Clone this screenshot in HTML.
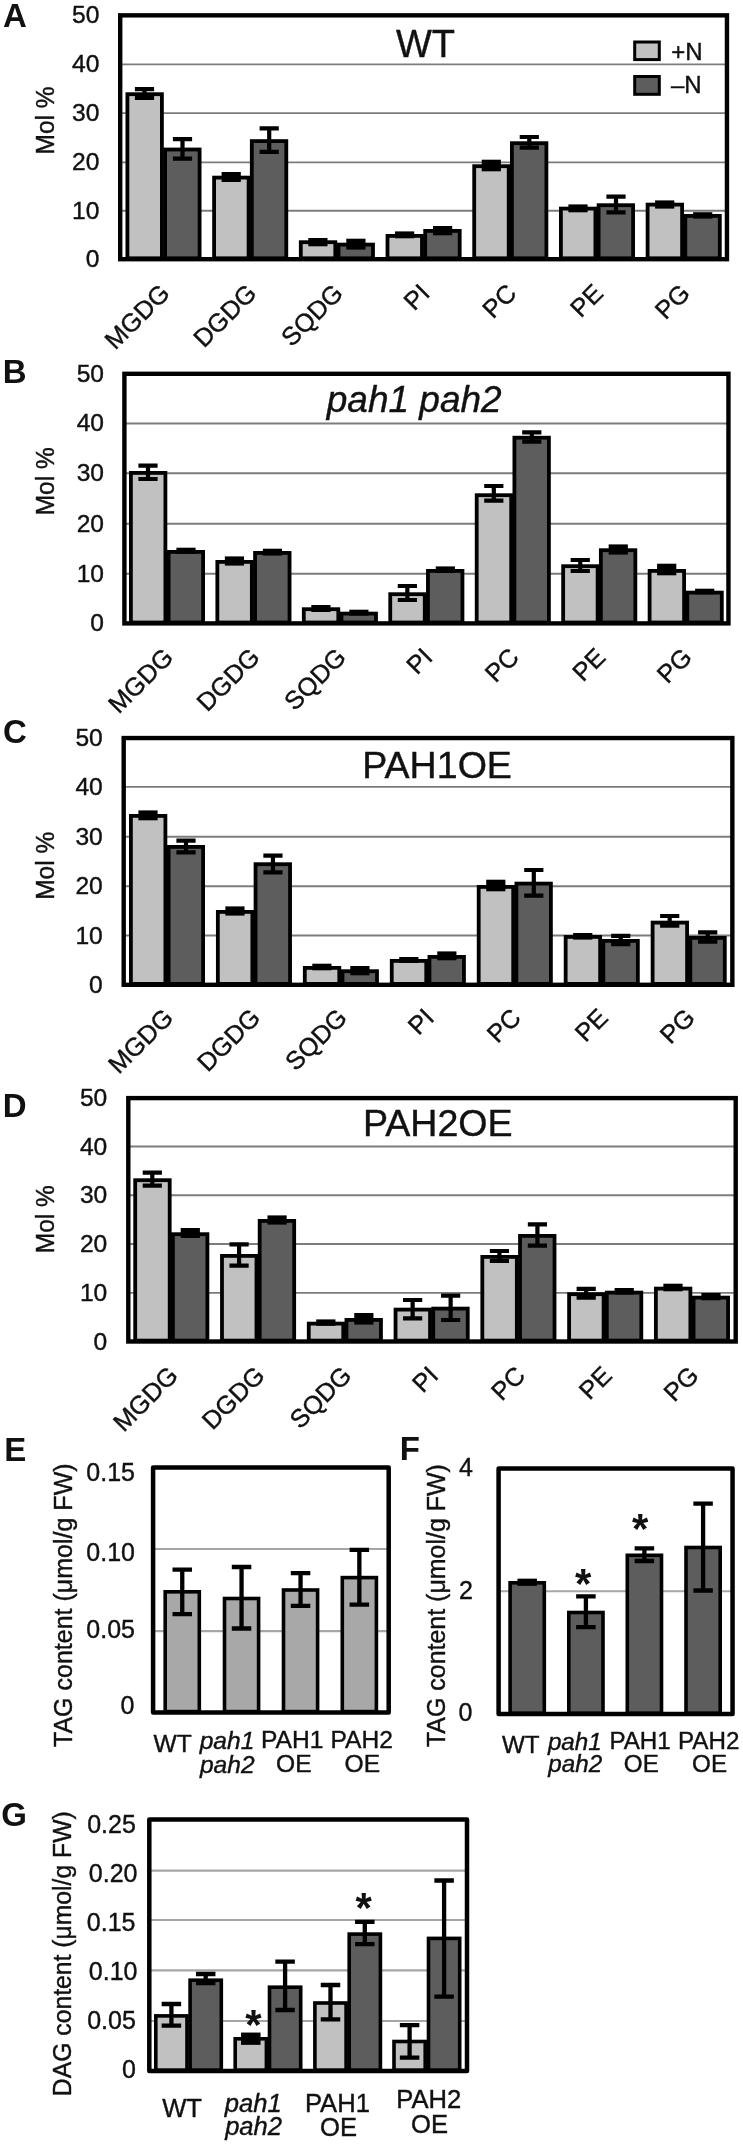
<!DOCTYPE html>
<html lang="en"><head><meta charset="utf-8"><title>Figure</title>
<style>
html,body{margin:0;padding:0;background:#fff;}
svg{display:block;filter:grayscale(1);}
text{font-family:"Liberation Sans", sans-serif;fill:#111;stroke:#111;stroke-width:0.4px;}
</style></head><body>
<svg width="743" height="2144" viewBox="0 0 743 2144">
<rect width="743" height="2144" fill="#fff"/>
<g id="panelA">
<line x1="120.2" x2="726.95" y1="64.4" y2="64.4" stroke="#7c7c7c" stroke-width="1.9"/>
<line x1="120.2" x2="726.95" y1="113.1" y2="113.1" stroke="#7c7c7c" stroke-width="1.9"/>
<line x1="120.2" x2="726.95" y1="162.4" y2="162.4" stroke="#7c7c7c" stroke-width="1.9"/>
<line x1="120.2" x2="726.95" y1="210.8" y2="210.8" stroke="#7c7c7c" stroke-width="1.9"/>
<rect x="127.40" y="94.20" width="34.50" height="164.10" fill="#c1c1c1" stroke="#000" stroke-width="3.8"/>
<rect x="165.10" y="149.50" width="34.50" height="108.80" fill="#5b5d5c" stroke="#000" stroke-width="3.8"/>
<rect x="214.10" y="177.60" width="34.50" height="80.70" fill="#c1c1c1" stroke="#000" stroke-width="3.8"/>
<rect x="251.80" y="141.10" width="34.50" height="117.20" fill="#5b5d5c" stroke="#000" stroke-width="3.8"/>
<rect x="300.80" y="242.20" width="34.50" height="16.10" fill="#c1c1c1" stroke="#000" stroke-width="3.8"/>
<rect x="338.50" y="244.60" width="34.50" height="13.70" fill="#5b5d5c" stroke="#000" stroke-width="3.8"/>
<rect x="387.50" y="235.90" width="34.50" height="22.40" fill="#c1c1c1" stroke="#000" stroke-width="3.8"/>
<rect x="425.20" y="230.90" width="34.50" height="27.40" fill="#5b5d5c" stroke="#000" stroke-width="3.8"/>
<rect x="474.20" y="166.20" width="34.50" height="92.10" fill="#c1c1c1" stroke="#000" stroke-width="3.8"/>
<rect x="511.90" y="143.20" width="34.50" height="115.10" fill="#5b5d5c" stroke="#000" stroke-width="3.8"/>
<rect x="560.90" y="208.60" width="34.50" height="49.70" fill="#c1c1c1" stroke="#000" stroke-width="3.8"/>
<rect x="598.60" y="205.20" width="34.50" height="53.10" fill="#5b5d5c" stroke="#000" stroke-width="3.8"/>
<rect x="647.60" y="204.60" width="34.50" height="53.70" fill="#c1c1c1" stroke="#000" stroke-width="3.8"/>
<rect x="685.30" y="215.90" width="34.50" height="42.40" fill="#5b5d5c" stroke="#000" stroke-width="3.8"/>
<path d="M134.90 89.20H154.10M134.90 98.00H154.10M144.50 89.20V98.00" stroke="#000" stroke-width="4.2" fill="none"/>
<path d="M172.90 139.20H192.10M172.90 158.70H192.10M182.50 139.20V158.70" stroke="#000" stroke-width="4.2" fill="none"/>
<rect x="221.60" y="172.00" width="19.20" height="10.00" fill="#000"/>
<path d="M259.60 128.30H278.80M259.60 151.80H278.80M269.20 128.30V151.80" stroke="#000" stroke-width="4.2" fill="none"/>
<rect x="308.30" y="238.00" width="19.20" height="8.30" fill="#000"/>
<rect x="346.30" y="238.70" width="19.20" height="10.90" fill="#000"/>
<rect x="395.00" y="231.40" width="19.20" height="6.90" fill="#000"/>
<rect x="433.00" y="226.00" width="19.20" height="9.30" fill="#000"/>
<rect x="481.70" y="159.70" width="19.20" height="11.60" fill="#000"/>
<path d="M519.70 137.00H538.90M519.70 147.70H538.90M529.30 137.00V147.70" stroke="#000" stroke-width="4.2" fill="none"/>
<rect x="568.40" y="204.40" width="19.20" height="7.90" fill="#000"/>
<path d="M606.40 196.70H625.60M606.40 212.30H625.60M616.00 196.70V212.30" stroke="#000" stroke-width="4.2" fill="none"/>
<rect x="655.10" y="200.40" width="19.20" height="8.20" fill="#000"/>
<rect x="693.10" y="212.20" width="19.20" height="6.40" fill="#000"/>
<rect x="120.2" y="15.35" width="606.75" height="243.85" fill="none" stroke="#000" stroke-width="4.4"/>
<text x="3.10" y="27.30" font-size="33" text-anchor="start" font-weight="bold" font-style="normal" style="stroke-width:0">A</text>
<text x="99.40" y="23.05" font-size="24.6" text-anchor="end" font-weight="normal" font-style="normal">50</text>
<text x="99.40" y="72.10" font-size="24.6" text-anchor="end" font-weight="normal" font-style="normal">40</text>
<text x="99.40" y="120.80" font-size="24.6" text-anchor="end" font-weight="normal" font-style="normal">30</text>
<text x="99.40" y="170.10" font-size="24.6" text-anchor="end" font-weight="normal" font-style="normal">20</text>
<text x="99.40" y="218.50" font-size="24.6" text-anchor="end" font-weight="normal" font-style="normal">10</text>
<text x="99.40" y="266.90" font-size="24.6" text-anchor="end" font-weight="normal" font-style="normal">0</text>
<text x="54.50" y="120.40" font-size="25.5" text-anchor="middle" font-weight="normal" font-style="normal" transform="rotate(-90 54.50 120.40)" textLength="68" lengthAdjust="spacingAndGlyphs">Mol %</text>
<text x="425.50" y="57.00" font-size="38" text-anchor="middle" font-weight="normal" font-style="normal">WT</text>
<text x="171.20" y="294.80" font-size="25.4" text-anchor="end" font-weight="normal" font-style="normal" transform="rotate(-45 171.20 294.80)">MGDG</text>
<text x="257.90" y="294.80" font-size="25.4" text-anchor="end" font-weight="normal" font-style="normal" transform="rotate(-45 257.90 294.80)">DGDG</text>
<text x="344.60" y="294.80" font-size="25.4" text-anchor="end" font-weight="normal" font-style="normal" transform="rotate(-45 344.60 294.80)">SQDG</text>
<text x="431.30" y="294.80" font-size="25.4" text-anchor="end" font-weight="normal" font-style="normal" transform="rotate(-45 431.30 294.80)">PI</text>
<text x="518.00" y="294.80" font-size="25.4" text-anchor="end" font-weight="normal" font-style="normal" transform="rotate(-45 518.00 294.80)">PC</text>
<text x="604.70" y="294.80" font-size="25.4" text-anchor="end" font-weight="normal" font-style="normal" transform="rotate(-45 604.70 294.80)">PE</text>
<text x="691.40" y="294.80" font-size="25.4" text-anchor="end" font-weight="normal" font-style="normal" transform="rotate(-45 691.40 294.80)">PG</text>
</g>
<g id="panelB">
<line x1="124.4" x2="728.45" y1="423.5" y2="423.5" stroke="#7c7c7c" stroke-width="1.9"/>
<line x1="124.4" x2="728.45" y1="473.3" y2="473.3" stroke="#7c7c7c" stroke-width="1.9"/>
<line x1="124.4" x2="728.45" y1="523.7" y2="523.7" stroke="#7c7c7c" stroke-width="1.9"/>
<line x1="124.4" x2="728.45" y1="573.8" y2="573.8" stroke="#7c7c7c" stroke-width="1.9"/>
<rect x="130.90" y="472.90" width="34.50" height="149.60" fill="#c1c1c1" stroke="#000" stroke-width="3.8"/>
<rect x="168.60" y="551.90" width="34.50" height="70.60" fill="#5b5d5c" stroke="#000" stroke-width="3.8"/>
<rect x="217.35" y="561.90" width="34.50" height="60.60" fill="#c1c1c1" stroke="#000" stroke-width="3.8"/>
<rect x="255.05" y="552.90" width="34.50" height="69.60" fill="#5b5d5c" stroke="#000" stroke-width="3.8"/>
<rect x="303.80" y="609.20" width="34.50" height="13.30" fill="#c1c1c1" stroke="#000" stroke-width="3.8"/>
<rect x="341.50" y="613.60" width="34.50" height="8.90" fill="#5b5d5c" stroke="#000" stroke-width="3.8"/>
<rect x="390.25" y="594.20" width="34.50" height="28.30" fill="#c1c1c1" stroke="#000" stroke-width="3.8"/>
<rect x="427.95" y="570.90" width="34.50" height="51.60" fill="#5b5d5c" stroke="#000" stroke-width="3.8"/>
<rect x="476.70" y="495.20" width="34.50" height="127.30" fill="#c1c1c1" stroke="#000" stroke-width="3.8"/>
<rect x="514.40" y="437.70" width="34.50" height="184.80" fill="#5b5d5c" stroke="#000" stroke-width="3.8"/>
<rect x="563.15" y="566.20" width="34.50" height="56.30" fill="#c1c1c1" stroke="#000" stroke-width="3.8"/>
<rect x="600.85" y="550.20" width="34.50" height="72.30" fill="#5b5d5c" stroke="#000" stroke-width="3.8"/>
<rect x="649.60" y="570.90" width="34.50" height="51.60" fill="#c1c1c1" stroke="#000" stroke-width="3.8"/>
<rect x="687.30" y="592.60" width="34.50" height="29.90" fill="#5b5d5c" stroke="#000" stroke-width="3.8"/>
<path d="M138.40 465.70H157.60M138.40 479.00H157.60M148.00 465.70V479.00" stroke="#000" stroke-width="4.2" fill="none"/>
<rect x="176.40" y="547.70" width="19.20" height="6.10" fill="#000"/>
<rect x="224.85" y="556.40" width="19.20" height="9.20" fill="#000"/>
<rect x="262.85" y="548.70" width="19.20" height="6.90" fill="#000"/>
<rect x="311.30" y="605.00" width="19.20" height="7.00" fill="#000"/>
<rect x="349.30" y="609.70" width="19.20" height="5.90" fill="#000"/>
<path d="M397.75 586.00H416.95M397.75 600.00H416.95M407.35 586.00V600.00" stroke="#000" stroke-width="4.2" fill="none"/>
<rect x="435.75" y="566.40" width="19.20" height="6.60" fill="#000"/>
<path d="M484.20 486.00H503.40M484.20 500.70H503.40M493.80 486.00V500.70" stroke="#000" stroke-width="4.2" fill="none"/>
<path d="M522.20 432.30H541.40M522.20 441.70H541.40M531.80 432.30V441.70" stroke="#000" stroke-width="4.2" fill="none"/>
<path d="M570.65 560.00H589.85M570.65 571.00H589.85M580.25 560.00V571.00" stroke="#000" stroke-width="4.2" fill="none"/>
<rect x="608.65" y="544.40" width="19.20" height="10.20" fill="#000"/>
<rect x="657.10" y="563.70" width="19.20" height="11.60" fill="#000"/>
<rect x="695.10" y="588.70" width="19.20" height="5.60" fill="#000"/>
<rect x="124.4" y="373.8" width="604.05" height="249.60" fill="none" stroke="#000" stroke-width="4.4"/>
<text x="2.80" y="382.80" font-size="33" text-anchor="start" font-weight="bold" font-style="normal" style="stroke-width:0">B</text>
<text x="104.00" y="381.70" font-size="24.6" text-anchor="end" font-weight="normal" font-style="normal">50</text>
<text x="104.00" y="431.40" font-size="24.6" text-anchor="end" font-weight="normal" font-style="normal">40</text>
<text x="104.00" y="481.20" font-size="24.6" text-anchor="end" font-weight="normal" font-style="normal">30</text>
<text x="104.00" y="531.60" font-size="24.6" text-anchor="end" font-weight="normal" font-style="normal">20</text>
<text x="104.00" y="581.70" font-size="24.6" text-anchor="end" font-weight="normal" font-style="normal">10</text>
<text x="104.00" y="631.30" font-size="24.6" text-anchor="end" font-weight="normal" font-style="normal">0</text>
<text x="54.50" y="481.30" font-size="25.5" text-anchor="middle" font-weight="normal" font-style="normal" transform="rotate(-90 54.50 481.30)" textLength="68" lengthAdjust="spacingAndGlyphs">Mol %</text>
<text x="414.20" y="412.30" font-size="37" text-anchor="middle" font-weight="normal" font-style="italic">pah1 pah2</text>
<text x="174.70" y="658.80" font-size="25.4" text-anchor="end" font-weight="normal" font-style="normal" transform="rotate(-45 174.70 658.80)">MGDG</text>
<text x="261.15" y="658.80" font-size="25.4" text-anchor="end" font-weight="normal" font-style="normal" transform="rotate(-45 261.15 658.80)">DGDG</text>
<text x="347.60" y="658.80" font-size="25.4" text-anchor="end" font-weight="normal" font-style="normal" transform="rotate(-45 347.60 658.80)">SQDG</text>
<text x="434.05" y="658.80" font-size="25.4" text-anchor="end" font-weight="normal" font-style="normal" transform="rotate(-45 434.05 658.80)">PI</text>
<text x="520.50" y="658.80" font-size="25.4" text-anchor="end" font-weight="normal" font-style="normal" transform="rotate(-45 520.50 658.80)">PC</text>
<text x="606.95" y="658.80" font-size="25.4" text-anchor="end" font-weight="normal" font-style="normal" transform="rotate(-45 606.95 658.80)">PE</text>
<text x="693.40" y="658.80" font-size="25.4" text-anchor="end" font-weight="normal" font-style="normal" transform="rotate(-45 693.40 658.80)">PG</text>
</g>
<g id="panelC">
<line x1="123.7" x2="732.35" y1="786.9" y2="786.9" stroke="#7c7c7c" stroke-width="1.9"/>
<line x1="123.7" x2="732.35" y1="836.7" y2="836.7" stroke="#7c7c7c" stroke-width="1.9"/>
<line x1="123.7" x2="732.35" y1="886.3" y2="886.3" stroke="#7c7c7c" stroke-width="1.9"/>
<line x1="123.7" x2="732.35" y1="935.5" y2="935.5" stroke="#7c7c7c" stroke-width="1.9"/>
<rect x="130.90" y="815.90" width="34.50" height="168.00" fill="#c1c1c1" stroke="#000" stroke-width="3.8"/>
<rect x="168.60" y="846.90" width="34.50" height="137.00" fill="#5b5d5c" stroke="#000" stroke-width="3.8"/>
<rect x="217.85" y="911.90" width="34.50" height="72.00" fill="#c1c1c1" stroke="#000" stroke-width="3.8"/>
<rect x="255.55" y="864.20" width="34.50" height="119.70" fill="#5b5d5c" stroke="#000" stroke-width="3.8"/>
<rect x="304.80" y="967.90" width="34.50" height="16.00" fill="#c1c1c1" stroke="#000" stroke-width="3.8"/>
<rect x="342.50" y="971.20" width="34.50" height="12.70" fill="#5b5d5c" stroke="#000" stroke-width="3.8"/>
<rect x="391.75" y="960.90" width="34.50" height="23.00" fill="#c1c1c1" stroke="#000" stroke-width="3.8"/>
<rect x="429.45" y="956.90" width="34.50" height="27.00" fill="#5b5d5c" stroke="#000" stroke-width="3.8"/>
<rect x="478.70" y="886.90" width="34.50" height="97.00" fill="#c1c1c1" stroke="#000" stroke-width="3.8"/>
<rect x="516.40" y="883.60" width="34.50" height="100.30" fill="#5b5d5c" stroke="#000" stroke-width="3.8"/>
<rect x="565.65" y="936.90" width="34.50" height="47.00" fill="#c1c1c1" stroke="#000" stroke-width="3.8"/>
<rect x="603.35" y="940.90" width="34.50" height="43.00" fill="#5b5d5c" stroke="#000" stroke-width="3.8"/>
<rect x="652.60" y="922.60" width="34.50" height="61.30" fill="#c1c1c1" stroke="#000" stroke-width="3.8"/>
<rect x="690.30" y="937.90" width="34.50" height="46.00" fill="#5b5d5c" stroke="#000" stroke-width="3.8"/>
<rect x="138.40" y="810.40" width="19.20" height="9.90" fill="#000"/>
<path d="M176.40 840.70H195.60M176.40 852.30H195.60M186.00 840.70V852.30" stroke="#000" stroke-width="4.2" fill="none"/>
<rect x="225.35" y="906.40" width="19.20" height="9.20" fill="#000"/>
<path d="M263.35 855.70H282.55M263.35 872.30H282.55M272.95 855.70V872.30" stroke="#000" stroke-width="4.2" fill="none"/>
<rect x="312.30" y="963.70" width="19.20" height="6.60" fill="#000"/>
<rect x="350.30" y="966.00" width="19.20" height="9.30" fill="#000"/>
<rect x="399.25" y="957.00" width="19.20" height="6.00" fill="#000"/>
<rect x="437.25" y="951.40" width="19.20" height="8.90" fill="#000"/>
<rect x="486.20" y="879.70" width="19.20" height="11.60" fill="#000"/>
<path d="M524.20 870.00H543.40M524.20 895.70H543.40M533.80 870.00V895.70" stroke="#000" stroke-width="4.2" fill="none"/>
<rect x="573.15" y="933.00" width="19.20" height="6.60" fill="#000"/>
<path d="M611.15 935.80H630.35M611.15 944.20H630.35M620.75 935.80V944.20" stroke="#000" stroke-width="4.2" fill="none"/>
<path d="M660.10 916.00H679.30M660.10 925.70H679.30M669.70 916.00V925.70" stroke="#000" stroke-width="4.2" fill="none"/>
<path d="M698.10 932.30H717.30M698.10 941.70H717.30M707.70 932.30V941.70" stroke="#000" stroke-width="4.2" fill="none"/>
<rect x="123.7" y="738.05" width="608.65" height="246.75" fill="none" stroke="#000" stroke-width="4.4"/>
<text x="2.90" y="743.00" font-size="33" text-anchor="start" font-weight="bold" font-style="normal" style="stroke-width:0">C</text>
<text x="102.80" y="746.15" font-size="24.6" text-anchor="end" font-weight="normal" font-style="normal">50</text>
<text x="102.80" y="795.00" font-size="24.6" text-anchor="end" font-weight="normal" font-style="normal">40</text>
<text x="102.80" y="844.80" font-size="24.6" text-anchor="end" font-weight="normal" font-style="normal">30</text>
<text x="102.80" y="894.40" font-size="24.6" text-anchor="end" font-weight="normal" font-style="normal">20</text>
<text x="102.80" y="943.60" font-size="24.6" text-anchor="end" font-weight="normal" font-style="normal">10</text>
<text x="102.80" y="992.90" font-size="24.6" text-anchor="end" font-weight="normal" font-style="normal">0</text>
<text x="54.50" y="865.80" font-size="25.5" text-anchor="middle" font-weight="normal" font-style="normal" transform="rotate(-90 54.50 865.80)" textLength="68" lengthAdjust="spacingAndGlyphs">Mol %</text>
<text x="437.10" y="777.70" font-size="37.6" text-anchor="middle" font-weight="normal" font-style="normal">PAH1OE</text>
<text x="174.70" y="1019.20" font-size="25.4" text-anchor="end" font-weight="normal" font-style="normal" transform="rotate(-45 174.70 1019.20)">MGDG</text>
<text x="261.65" y="1019.20" font-size="25.4" text-anchor="end" font-weight="normal" font-style="normal" transform="rotate(-45 261.65 1019.20)">DGDG</text>
<text x="348.60" y="1019.20" font-size="25.4" text-anchor="end" font-weight="normal" font-style="normal" transform="rotate(-45 348.60 1019.20)">SQDG</text>
<text x="435.55" y="1019.20" font-size="25.4" text-anchor="end" font-weight="normal" font-style="normal" transform="rotate(-45 435.55 1019.20)">PI</text>
<text x="522.50" y="1019.20" font-size="25.4" text-anchor="end" font-weight="normal" font-style="normal" transform="rotate(-45 522.50 1019.20)">PC</text>
<text x="609.45" y="1019.20" font-size="25.4" text-anchor="end" font-weight="normal" font-style="normal" transform="rotate(-45 609.45 1019.20)">PE</text>
<text x="696.40" y="1019.20" font-size="25.4" text-anchor="end" font-weight="normal" font-style="normal" transform="rotate(-45 696.40 1019.20)">PG</text>
</g>
<g id="panelD">
<line x1="128.3" x2="735.7" y1="1146.5" y2="1146.5" stroke="#7c7c7c" stroke-width="1.9"/>
<line x1="128.3" x2="735.7" y1="1195.2" y2="1195.2" stroke="#7c7c7c" stroke-width="1.9"/>
<line x1="128.3" x2="735.7" y1="1244" y2="1244" stroke="#7c7c7c" stroke-width="1.9"/>
<line x1="128.3" x2="735.7" y1="1292.9" y2="1292.9" stroke="#7c7c7c" stroke-width="1.9"/>
<rect x="135.20" y="1180.20" width="34.50" height="160.40" fill="#c1c1c1" stroke="#000" stroke-width="3.8"/>
<rect x="172.90" y="1234.20" width="34.50" height="106.40" fill="#5b5d5c" stroke="#000" stroke-width="3.8"/>
<rect x="221.98" y="1255.90" width="34.50" height="84.70" fill="#c1c1c1" stroke="#000" stroke-width="3.8"/>
<rect x="259.68" y="1220.90" width="34.50" height="119.70" fill="#5b5d5c" stroke="#000" stroke-width="3.8"/>
<rect x="308.76" y="1323.60" width="34.50" height="17.00" fill="#c1c1c1" stroke="#000" stroke-width="3.8"/>
<rect x="346.46" y="1319.90" width="34.50" height="20.70" fill="#5b5d5c" stroke="#000" stroke-width="3.8"/>
<rect x="395.54" y="1309.60" width="34.50" height="31.00" fill="#c1c1c1" stroke="#000" stroke-width="3.8"/>
<rect x="433.24" y="1308.60" width="34.50" height="32.00" fill="#5b5d5c" stroke="#000" stroke-width="3.8"/>
<rect x="482.32" y="1256.90" width="34.50" height="83.70" fill="#c1c1c1" stroke="#000" stroke-width="3.8"/>
<rect x="520.02" y="1235.90" width="34.50" height="104.70" fill="#5b5d5c" stroke="#000" stroke-width="3.8"/>
<rect x="569.10" y="1294.20" width="34.50" height="46.40" fill="#c1c1c1" stroke="#000" stroke-width="3.8"/>
<rect x="606.80" y="1292.60" width="34.50" height="48.00" fill="#5b5d5c" stroke="#000" stroke-width="3.8"/>
<rect x="655.88" y="1288.60" width="34.50" height="52.00" fill="#c1c1c1" stroke="#000" stroke-width="3.8"/>
<rect x="693.58" y="1297.60" width="34.50" height="43.00" fill="#5b5d5c" stroke="#000" stroke-width="3.8"/>
<path d="M142.70 1172.70H161.90M142.70 1185.70H161.90M152.30 1172.70V1185.70" stroke="#000" stroke-width="4.2" fill="none"/>
<rect x="180.70" y="1228.00" width="19.20" height="10.00" fill="#000"/>
<path d="M229.48 1244.30H248.68M229.48 1265.70H248.68M239.08 1244.30V1265.70" stroke="#000" stroke-width="4.2" fill="none"/>
<rect x="267.48" y="1215.40" width="19.20" height="9.20" fill="#000"/>
<rect x="316.26" y="1319.40" width="19.20" height="6.40" fill="#000"/>
<rect x="354.26" y="1313.00" width="19.20" height="11.60" fill="#000"/>
<path d="M403.04 1300.00H422.24M403.04 1318.30H422.24M412.64 1300.00V1318.30" stroke="#000" stroke-width="4.2" fill="none"/>
<path d="M441.04 1295.70H460.24M441.04 1320.00H460.24M450.64 1295.70V1320.00" stroke="#000" stroke-width="4.2" fill="none"/>
<path d="M489.82 1251.00H509.02M489.82 1261.00H509.02M499.42 1251.00V1261.00" stroke="#000" stroke-width="4.2" fill="none"/>
<path d="M527.82 1224.30H547.02M527.82 1245.70H547.02M537.42 1224.30V1245.70" stroke="#000" stroke-width="4.2" fill="none"/>
<path d="M576.60 1288.80H595.80M576.60 1297.70H595.80M586.20 1288.80V1297.70" stroke="#000" stroke-width="4.2" fill="none"/>
<rect x="614.60" y="1288.00" width="19.20" height="6.60" fill="#000"/>
<rect x="663.38" y="1283.70" width="19.20" height="7.60" fill="#000"/>
<rect x="701.38" y="1293.00" width="19.20" height="7.30" fill="#000"/>
<rect x="128.3" y="1098.1" width="607.40" height="243.40" fill="none" stroke="#000" stroke-width="4.4"/>
<text x="2.80" y="1117.00" font-size="33" text-anchor="start" font-weight="bold" font-style="normal" style="stroke-width:0">D</text>
<text x="107.30" y="1106.35" font-size="24.6" text-anchor="end" font-weight="normal" font-style="normal">50</text>
<text x="107.30" y="1154.75" font-size="24.6" text-anchor="end" font-weight="normal" font-style="normal">40</text>
<text x="107.30" y="1203.45" font-size="24.6" text-anchor="end" font-weight="normal" font-style="normal">30</text>
<text x="107.30" y="1252.25" font-size="24.6" text-anchor="end" font-weight="normal" font-style="normal">20</text>
<text x="107.30" y="1301.15" font-size="24.6" text-anchor="end" font-weight="normal" font-style="normal">10</text>
<text x="107.30" y="1349.75" font-size="24.6" text-anchor="end" font-weight="normal" font-style="normal">0</text>
<text x="54.50" y="1219.20" font-size="25.5" text-anchor="middle" font-weight="normal" font-style="normal" transform="rotate(-90 54.50 1219.20)" textLength="68" lengthAdjust="spacingAndGlyphs">Mol %</text>
<text x="437.80" y="1136.30" font-size="37.6" text-anchor="middle" font-weight="normal" font-style="normal">PAH2OE</text>
<text x="179.50" y="1377.10" font-size="25.4" text-anchor="end" font-weight="normal" font-style="normal" transform="rotate(-45 179.50 1377.10)">MGDG</text>
<text x="266.28" y="1377.10" font-size="25.4" text-anchor="end" font-weight="normal" font-style="normal" transform="rotate(-45 266.28 1377.10)">DGDG</text>
<text x="353.06" y="1377.10" font-size="25.4" text-anchor="end" font-weight="normal" font-style="normal" transform="rotate(-45 353.06 1377.10)">SQDG</text>
<text x="439.84" y="1377.10" font-size="25.4" text-anchor="end" font-weight="normal" font-style="normal" transform="rotate(-45 439.84 1377.10)">PI</text>
<text x="526.62" y="1377.10" font-size="25.4" text-anchor="end" font-weight="normal" font-style="normal" transform="rotate(-45 526.62 1377.10)">PC</text>
<text x="613.40" y="1377.10" font-size="25.4" text-anchor="end" font-weight="normal" font-style="normal" transform="rotate(-45 613.40 1377.10)">PE</text>
<text x="700.18" y="1377.10" font-size="25.4" text-anchor="end" font-weight="normal" font-style="normal" transform="rotate(-45 700.18 1377.10)">PG</text>
</g>
<rect x="634.70" y="42.00" width="24.60" height="17.60" fill="#c1c1c1" stroke="#000" stroke-width="3"/>
<rect x="634.70" y="76.50" width="24.60" height="17.80" fill="#5b5d5c" stroke="#000" stroke-width="3"/>
<text x="671.20" y="60.40" font-size="24" text-anchor="start" font-weight="normal" font-style="normal">+N</text>
<text x="670.90" y="93.30" font-size="24" text-anchor="start" font-weight="normal" font-style="normal">–N</text>
<g id="panelE">
<line x1="153.1" x2="388.7" y1="1549" y2="1549" stroke="#a6a6a6" stroke-width="2.1"/>
<line x1="153.1" x2="388.7" y1="1631.1" y2="1631.1" stroke="#a6a6a6" stroke-width="2.1"/>
<rect x="165.20" y="1591.80" width="34.10" height="119.80" fill="#a8a8a8" stroke="#000" stroke-width="3.6"/>
<rect x="224.50" y="1598.50" width="34.10" height="113.10" fill="#a8a8a8" stroke="#000" stroke-width="3.6"/>
<rect x="283.50" y="1590.00" width="34.10" height="121.60" fill="#a8a8a8" stroke="#000" stroke-width="3.6"/>
<rect x="342.30" y="1577.60" width="34.10" height="134.00" fill="#a8a8a8" stroke="#000" stroke-width="3.6"/>
<path d="M172.50 1569.70H192.00M172.50 1614.20H192.00M182.25 1569.70V1614.20" stroke="#000" stroke-width="4.3" fill="none"/>
<path d="M231.80 1567.00H251.30M231.80 1628.50H251.30M241.55 1567.00V1628.50" stroke="#000" stroke-width="4.3" fill="none"/>
<path d="M290.80 1573.20H310.30M290.80 1605.80H310.30M300.55 1573.20V1605.80" stroke="#000" stroke-width="4.3" fill="none"/>
<path d="M349.60 1549.80H369.10M349.60 1604.70H369.10M359.35 1549.80V1604.70" stroke="#000" stroke-width="4.3" fill="none"/>
<rect x="153.1" y="1467.6" width="235.60" height="244.80" fill="none" stroke="#000" stroke-width="4.5" stroke-linejoin="round"/>
<text x="4.20" y="1460.50" font-size="33" text-anchor="start" font-weight="bold" font-style="normal" style="stroke-width:0">E</text>
<text x="135.00" y="1480.80" font-size="25" text-anchor="end" font-weight="normal" font-style="normal">0.15</text>
<text x="135.00" y="1561.20" font-size="25" text-anchor="end" font-weight="normal" font-style="normal">0.10</text>
<text x="135.00" y="1638.20" font-size="25" text-anchor="end" font-weight="normal" font-style="normal">0.05</text>
<text x="134.30" y="1714.10" font-size="25" text-anchor="end" font-weight="normal" font-style="normal">0</text>
<text x="71.60" y="1747.00" font-size="25.5" text-anchor="start" font-weight="normal" font-style="normal" transform="rotate(-90 71.60 1747.00)" textLength="283.6" lengthAdjust="spacingAndGlyphs">TAG content (μmol/g FW)</text>
<text x="172.70" y="1752.30" font-size="24.6" text-anchor="middle" font-weight="normal" font-style="normal">WT</text>
<text x="227.00" y="1748.90" font-size="24.6" text-anchor="middle" font-weight="normal" font-style="italic">pah1</text>
<text x="227.30" y="1772.60" font-size="24.6" text-anchor="middle" font-weight="normal" font-style="italic">pah2</text>
<text x="292.20" y="1748.10" font-size="24.6" text-anchor="middle" font-weight="normal" font-style="normal">PAH1</text>
<text x="293.80" y="1771.90" font-size="24.6" text-anchor="middle" font-weight="normal" font-style="normal">OE</text>
<text x="361.70" y="1748.10" font-size="24.6" text-anchor="middle" font-weight="normal" font-style="normal">PAH2</text>
<text x="362.30" y="1771.90" font-size="24.6" text-anchor="middle" font-weight="normal" font-style="normal">OE</text>
</g>
<g id="panelF">
<line x1="498.6" x2="732.55" y1="1591.2" y2="1591.2" stroke="#a6a6a6" stroke-width="2.1"/>
<rect x="510.10" y="1582.80" width="34.20" height="130.50" fill="#5b5d5c" stroke="#000" stroke-width="3.6"/>
<rect x="568.80" y="1612.50" width="34.20" height="100.80" fill="#5b5d5c" stroke="#000" stroke-width="3.6"/>
<rect x="627.30" y="1555.30" width="34.20" height="158.00" fill="#5b5d5c" stroke="#000" stroke-width="3.6"/>
<rect x="686.00" y="1547.50" width="34.20" height="165.80" fill="#5b5d5c" stroke="#000" stroke-width="3.6"/>
<rect x="517.45" y="1578.65" width="19.50" height="7.20" fill="#000"/>
<path d="M576.15 1596.40H595.65M576.15 1627.20H595.65M585.90 1596.40V1627.20" stroke="#000" stroke-width="4.3" fill="none"/>
<path d="M634.65 1548.40H654.15M634.65 1561.00H654.15M644.40 1548.40V1561.00" stroke="#000" stroke-width="4.3" fill="none"/>
<path d="M693.35 1503.70H712.85M693.35 1590.50H712.85M703.10 1503.70V1590.50" stroke="#000" stroke-width="4.3" fill="none"/>
<rect x="498.6" y="1468.5" width="233.95" height="245.60" fill="none" stroke="#000" stroke-width="4.5" stroke-linejoin="round"/>
<text x="399.80" y="1460.10" font-size="33" text-anchor="start" font-weight="bold" font-style="normal" style="stroke-width:0">F</text>
<text x="472.80" y="1475.60" font-size="25" text-anchor="end" font-weight="normal" font-style="normal">4</text>
<text x="472.80" y="1598.50" font-size="25" text-anchor="end" font-weight="normal" font-style="normal">2</text>
<text x="472.50" y="1721.30" font-size="25" text-anchor="end" font-weight="normal" font-style="normal">0</text>
<text x="445.20" y="1747.10" font-size="25.5" text-anchor="start" font-weight="normal" font-style="normal" transform="rotate(-90 445.20 1747.10)" textLength="283" lengthAdjust="spacingAndGlyphs">TAG content (μmol/g FW)</text>
<text x="520.70" y="1752.90" font-size="24.2" text-anchor="middle" font-weight="normal" font-style="normal">WT</text>
<text x="574.80" y="1749.60" font-size="24.2" text-anchor="middle" font-weight="normal" font-style="italic">pah1</text>
<text x="575.20" y="1772.30" font-size="24.2" text-anchor="middle" font-weight="normal" font-style="italic">pah2</text>
<text x="640.10" y="1748.90" font-size="24.2" text-anchor="middle" font-weight="normal" font-style="normal">PAH1</text>
<text x="641.30" y="1772.30" font-size="24.2" text-anchor="middle" font-weight="normal" font-style="normal">OE</text>
<text x="708.70" y="1748.90" font-size="24.2" text-anchor="middle" font-weight="normal" font-style="normal">PAH2</text>
<text x="709.60" y="1772.30" font-size="24.2" text-anchor="middle" font-weight="normal" font-style="normal">OE</text>
<text x="583.30" y="1597.80" font-size="42" text-anchor="middle" font-weight="bold" font-style="normal" style="stroke-width:0">*</text>
<text x="640.10" y="1543.40" font-size="42" text-anchor="middle" font-weight="bold" font-style="normal" style="stroke-width:0">*</text>
</g>
<g id="panelG">
<line x1="149.3" x2="467" y1="1870.6" y2="1870.6" stroke="#a6a6a6" stroke-width="2.1"/>
<line x1="149.3" x2="467" y1="1920" y2="1920" stroke="#a6a6a6" stroke-width="2.1"/>
<line x1="149.3" x2="467" y1="1970.4" y2="1970.4" stroke="#a6a6a6" stroke-width="2.1"/>
<line x1="149.3" x2="467" y1="2021" y2="2021" stroke="#a6a6a6" stroke-width="2.1"/>
<rect x="155.80" y="2015.90" width="31.20" height="54.30" fill="#c1c1c1" stroke="#000" stroke-width="3.6"/>
<rect x="190.10" y="1980.20" width="31.20" height="90.00" fill="#5b5d5c" stroke="#000" stroke-width="3.6"/>
<rect x="235.20" y="2038.80" width="31.20" height="31.40" fill="#c1c1c1" stroke="#000" stroke-width="3.6"/>
<rect x="269.50" y="1987.20" width="31.20" height="83.00" fill="#5b5d5c" stroke="#000" stroke-width="3.6"/>
<rect x="314.90" y="2003.00" width="31.20" height="67.20" fill="#c1c1c1" stroke="#000" stroke-width="3.6"/>
<rect x="349.20" y="1934.10" width="31.20" height="136.10" fill="#5b5d5c" stroke="#000" stroke-width="3.6"/>
<rect x="394.00" y="2041.50" width="31.20" height="28.70" fill="#c1c1c1" stroke="#000" stroke-width="3.6"/>
<rect x="428.50" y="1938.40" width="31.20" height="131.80" fill="#5b5d5c" stroke="#000" stroke-width="3.6"/>
<path d="M161.65 2004.00H181.15M161.65 2025.70H181.15M171.40 2004.00V2025.70" stroke="#000" stroke-width="4.3" fill="none"/>
<path d="M195.95 1974.00H215.45M195.95 1983.00H215.45M205.70 1974.00V1983.00" stroke="#000" stroke-width="4.3" fill="none"/>
<rect x="241.05" y="2032.55" width="19.50" height="12.30" fill="#000"/>
<path d="M275.35 1961.70H294.85M275.35 2010.00H294.85M285.10 1961.70V2010.00" stroke="#000" stroke-width="4.3" fill="none"/>
<path d="M320.75 1985.00H340.25M320.75 2019.40H340.25M330.50 1985.00V2019.40" stroke="#000" stroke-width="4.3" fill="none"/>
<path d="M355.05 1921.80H374.55M355.05 1944.20H374.55M364.80 1921.80V1944.20" stroke="#000" stroke-width="4.3" fill="none"/>
<path d="M399.85 2025.20H419.35M399.85 2057.60H419.35M409.60 2025.20V2057.60" stroke="#000" stroke-width="4.3" fill="none"/>
<path d="M434.35 1880.50H453.85M434.35 1996.60H453.85M444.10 1880.50V1996.60" stroke="#000" stroke-width="4.3" fill="none"/>
<rect x="149.3" y="1819.4" width="317.70" height="251.60" fill="none" stroke="#000" stroke-width="4.5" stroke-linejoin="round"/>
<text x="1.30" y="1825.50" font-size="33" text-anchor="start" font-weight="bold" font-style="normal" style="stroke-width:0">G</text>
<text x="135.80" y="1833.00" font-size="25" text-anchor="end" font-weight="normal" font-style="normal">0.25</text>
<text x="137.50" y="1882.40" font-size="25" text-anchor="end" font-weight="normal" font-style="normal">0.20</text>
<text x="135.50" y="1930.70" font-size="25" text-anchor="end" font-weight="normal" font-style="normal">0.15</text>
<text x="137.50" y="1980.40" font-size="25" text-anchor="end" font-weight="normal" font-style="normal">0.10</text>
<text x="135.80" y="2029.00" font-size="25" text-anchor="end" font-weight="normal" font-style="normal">0.05</text>
<text x="135.80" y="2078.00" font-size="25" text-anchor="end" font-weight="normal" font-style="normal">0</text>
<text x="71.10" y="2096.20" font-size="25.5" text-anchor="start" font-weight="normal" font-style="normal" transform="rotate(-90 71.10 2096.20)" textLength="285" lengthAdjust="spacingAndGlyphs">DAG content (μmol/g FW)</text>
<text x="182.10" y="2116.70" font-size="25.6" text-anchor="middle" font-weight="normal" font-style="normal">WT</text>
<text x="253.20" y="2112.30" font-size="25.6" text-anchor="middle" font-weight="normal" font-style="italic">pah1</text>
<text x="253.60" y="2135.10" font-size="25.6" text-anchor="middle" font-weight="normal" font-style="italic">pah2</text>
<text x="337.40" y="2112.30" font-size="25.6" text-anchor="middle" font-weight="normal" font-style="normal">PAH1</text>
<text x="338.60" y="2136.00" font-size="25.6" text-anchor="middle" font-weight="normal" font-style="normal">OE</text>
<text x="428.80" y="2108.40" font-size="25.6" text-anchor="middle" font-weight="normal" font-style="normal">PAH2</text>
<text x="429.50" y="2132.70" font-size="25.6" text-anchor="middle" font-weight="normal" font-style="normal">OE</text>
<text x="253.40" y="2038.70" font-size="42" text-anchor="middle" font-weight="bold" font-style="normal" style="stroke-width:0">*</text>
<text x="363.80" y="1921.80" font-size="42" text-anchor="middle" font-weight="bold" font-style="normal" style="stroke-width:0">*</text>
</g>
</svg>
</body></html>
